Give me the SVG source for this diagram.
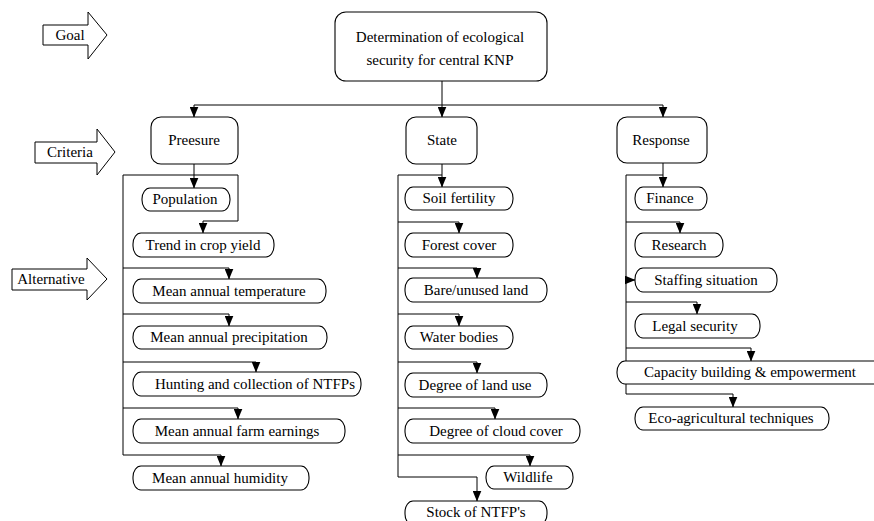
<svg xmlns="http://www.w3.org/2000/svg" width="874" height="521" viewBox="0 0 874 521">
<style>
text{font-family:"Liberation Serif","Times New Roman",serif;font-size:15px;fill:#000;text-anchor:middle}
.box{fill:#fff;stroke:#000;stroke-width:1.1}
.pill{fill:#fff;stroke:#000;stroke-width:1.1}
.ln{fill:none;stroke:#000;stroke-width:1}
.side{fill:#fff;stroke:#000;stroke-width:1}
</style>
<defs>
<marker id="ah" viewBox="0 0 11 9" refX="10.5" refY="4.5" markerWidth="11" markerHeight="9" markerUnits="userSpaceOnUse" orient="auto">
<path d="M0,0 L11,4.5 L0,9 Z" fill="#000"/>
</marker>
</defs>
<rect width="874" height="521" fill="#fff"/>

<g id="connectors">
<path class="ln" d="M442,81 V117" marker-end="url(#ah)"/>
<path class="ln" d="M442,105 H194 V117" marker-end="url(#ah)"/>
<path class="ln" d="M442,105 H663 V117" marker-end="url(#ah)"/>

<path class="ln" d="M194,164 V188" marker-end="url(#ah)"/>
<path class="ln" d="M123,455 V175 H238 V221 H203 V233" marker-end="url(#ah)"/>
<path class="ln" d="M123,268 H229 V279" marker-end="url(#ah)"/>
<path class="ln" d="M123,314 H229 V326" marker-end="url(#ah)"/>
<path class="ln" d="M123,362 H256 V372" marker-end="url(#ah)"/>
<path class="ln" d="M123,408 H238 V419" marker-end="url(#ah)"/>
<path class="ln" d="M123,455 H221 V466" marker-end="url(#ah)"/>

<path class="ln" d="M442,164 V187" marker-end="url(#ah)"/>
<path class="ln" d="M442,175 H398 V477"/>
<path class="ln" d="M398,222 H459 V233" marker-end="url(#ah)"/>
<path class="ln" d="M398,268 H477 V278" marker-end="url(#ah)"/>
<path class="ln" d="M398,314 H459 V326" marker-end="url(#ah)"/>
<path class="ln" d="M398,362 H477 V373" marker-end="url(#ah)"/>
<path class="ln" d="M398,408 H495 V419" marker-end="url(#ah)"/>
<path class="ln" d="M398,455 H530 V466" marker-end="url(#ah)"/>
<path class="ln" d="M398,477 H477 V501" marker-end="url(#ah)"/>

<path class="ln" d="M663,163 V187" marker-end="url(#ah)"/>
<path class="ln" d="M663,175 H626 V394"/>
<path class="ln" d="M626,222 H680 V233" marker-end="url(#ah)"/>
<path class="ln" d="M626,280 H635" marker-end="url(#ah)"/>
<path class="ln" d="M626,302 H697 V314" marker-end="url(#ah)"/>
<path class="ln" d="M626,348 H751 V361" marker-end="url(#ah)"/>
<path class="ln" d="M626,394 H733 V407" marker-end="url(#ah)"/>
</g>

<g id="goal-label"><path class="side" d="M43,25 H88 V12 L107,35 L88,59 V45 H43 Z"/><text x="70" y="40">Goal</text></g>
<g id="criteria-label"><path class="side" d="M35,142 H97 V129 L115,152 L97,175 V163 H35 Z"/><text x="70" y="157">Criteria</text></g>
<g id="alternative-label"><path class="side" d="M12,269 H87 V258 L107,279 L87,300 V290 H12 Z"/><text x="51" y="284">Alternative</text></g>

<g id="goal"><rect class="box" x="335" y="12" width="212" height="69" rx="11"/><text x="440" y="42">Determination of ecological</text><text x="440" y="65">security for central KNP</text></g>
<g id="preesure"><rect class="box" x="151" y="117" width="87" height="47" rx="10"/><text x="194" y="145">Preesure</text></g>
<g id="state"><rect class="box" x="406" y="117" width="71" height="47" rx="10"/><text x="442" y="145">State</text></g>
<g id="response"><rect class="box" x="617" y="117" width="90" height="46" rx="10"/><text x="661" y="145">Response</text></g>

<g id="population"><rect class="pill" x="142" y="188" width="88" height="23" rx="8" ry="11"/><text x="185" y="204">Population</text></g>
<g id="trend"><rect class="pill" x="133" y="233" width="141" height="24" rx="8" ry="11"/><text x="203" y="250">Trend in crop yield</text></g>
<g id="temperature"><rect class="pill" x="133" y="279" width="193" height="24" rx="8" ry="11"/><text x="229" y="296">Mean annual temperature</text></g>
<g id="precipitation"><rect class="pill" x="133" y="326" width="194" height="23" rx="8" ry="11"/><text x="229" y="342">Mean annual precipitation</text></g>
<g id="hunting"><rect class="pill" x="133" y="372" width="228" height="24" rx="8" ry="11"/><text x="255" y="389">Hunting and collection of NTFPs</text></g>
<g id="farm-earnings"><rect class="pill" x="133" y="419" width="212" height="24" rx="8" ry="11"/><text x="237" y="436">Mean annual farm earnings</text></g>
<g id="humidity"><rect class="pill" x="133" y="466" width="176" height="24" rx="8" ry="11"/><text x="220" y="483">Mean annual humidity</text></g>

<g id="soil"><rect class="pill" x="405" y="187" width="108" height="23" rx="8" ry="11"/><text x="459" y="203">Soil fertility</text></g>
<g id="forest"><rect class="pill" x="405" y="233" width="108" height="24" rx="8" ry="11"/><text x="459" y="250">Forest cover</text></g>
<g id="bare"><rect class="pill" x="405" y="278" width="142" height="24" rx="8" ry="11"/><text x="476" y="295">Bare/unused land</text></g>
<g id="water"><rect class="pill" x="405" y="326" width="108" height="23" rx="8" ry="11"/><text x="459" y="342">Water bodies</text></g>
<g id="land-use"><rect class="pill" x="405" y="373" width="142" height="24" rx="8" ry="11"/><text x="475" y="390">Degree of land use</text></g>
<g id="cloud"><rect class="pill" x="405" y="419" width="175" height="24" rx="8" ry="11"/><text x="496" y="436">Degree of cloud cover</text></g>
<g id="wildlife"><rect class="pill" x="486" y="466" width="87" height="23" rx="8" ry="11"/><text x="528" y="482">Wildlife</text></g>
<g id="stock"><rect class="pill" x="405" y="501" width="142" height="24" rx="8" ry="11"/><text x="476" y="517">Stock of NTFP's</text></g>

<g id="finance"><rect class="pill" x="635" y="187" width="72" height="23" rx="8" ry="11"/><text x="670" y="203">Finance</text></g>
<g id="research"><rect class="pill" x="635" y="233" width="88" height="24" rx="8" ry="11"/><text x="679" y="250">Research</text></g>
<g id="staffing"><rect class="pill" x="635" y="268" width="142" height="24" rx="8" ry="11"/><text x="706" y="285">Staffing situation</text></g>
<g id="legal"><rect class="pill" x="635" y="314" width="125" height="24" rx="8" ry="11"/><text x="695" y="331">Legal security</text></g>
<g id="capacity"><rect class="pill" x="617" y="361" width="280" height="23" rx="8" ry="11"/><text x="750" y="377">Capacity building &amp; empowerment</text></g>
<g id="eco"><rect class="pill" x="635" y="407" width="194" height="23" rx="8" ry="11"/><text x="731" y="423">Eco-agricultural techniques</text></g>
</svg>
